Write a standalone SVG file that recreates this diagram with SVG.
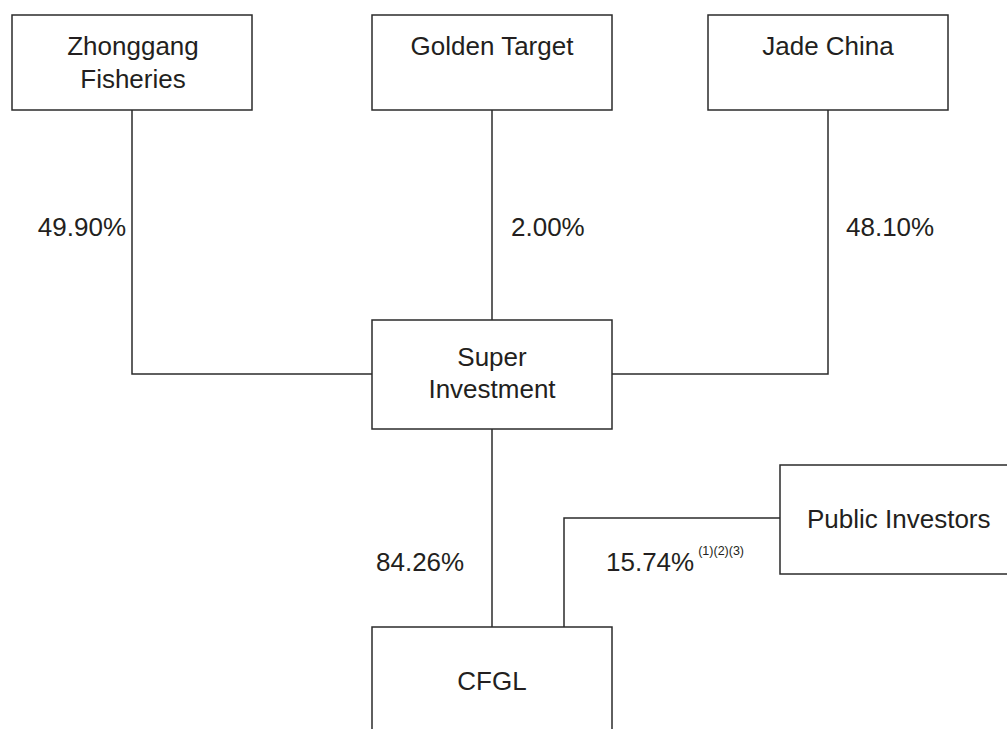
<svg xmlns="http://www.w3.org/2000/svg" width="1007" height="729" viewBox="0 0 1007 729">
<style>
.box{fill:#ffffff;stroke:#2b2b2b;stroke-width:1.5}
.ln{fill:none;stroke:#2b2b2b;stroke-width:1.5}
text{font-family:"Liberation Sans",Arial,sans-serif;font-size:26px;fill:#231f20}
.c{text-anchor:middle}
.sup{font-size:12.5px}
</style>
<rect width="1007" height="729" fill="#ffffff"/>
<g id="connectors">
<polyline class="ln" points="132,110 132,374 372,374"/>
<line class="ln" x1="492" y1="110" x2="492" y2="320"/>
<polyline class="ln" points="828,110 828,374 612,374"/>
<line class="ln" x1="492" y1="429" x2="492" y2="627"/>
<polyline class="ln" points="780,518 564,518 564,627"/>
</g>
<g id="zhonggang">
<rect class="box" x="12" y="15" width="240" height="95"/>
<text class="c" x="133" y="55">Zhonggang</text>
<text class="c" x="133" y="88">Fisheries</text>
</g>
<g id="golden">
<rect class="box" x="372" y="15" width="240" height="95"/>
<text class="c" x="492" y="55">Golden Target</text>
</g>
<g id="jade">
<rect class="box" x="708" y="15" width="240" height="95"/>
<text class="c" x="828" y="55">Jade China</text>
</g>
<g id="super">
<rect class="box" x="372" y="320" width="240" height="109"/>
<text class="c" x="492" y="366">Super</text>
<text class="c" x="492" y="398">Investment</text>
</g>
<g id="public">
<rect class="box" x="780" y="465" width="240" height="109"/>
<text x="807" y="528">Public Investors</text>
</g>
<g id="cfgl">
<rect class="box" x="372" y="627" width="240" height="120"/>
<text class="c" x="492" y="690">CFGL</text>
</g>
<g id="labels">
<text x="126" y="236" text-anchor="end">49.90%</text>
<text x="511" y="236">2.00%</text>
<text x="846" y="236">48.10%</text>
<text x="376" y="571">84.26%</text>
<text x="606" y="571">15.74%<tspan class="sup" dx="4" dy="-16">(1)(2)(3)</tspan></text>
</g>
</svg>
